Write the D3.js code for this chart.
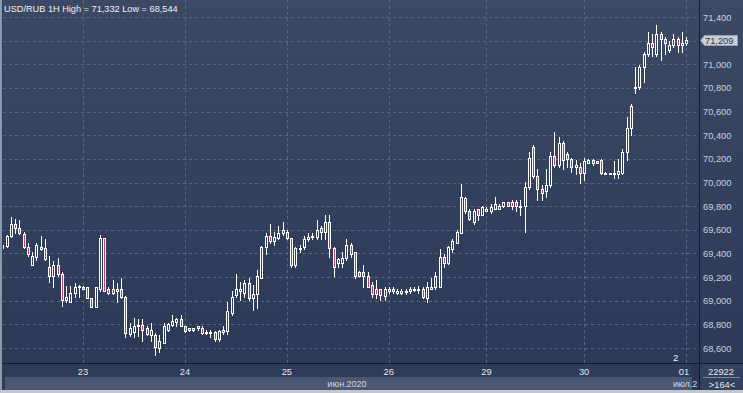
<!DOCTYPE html>
<html><head><meta charset="utf-8">
<script src="https://cdn.jsdelivr.net/npm/d3@7"></script>
<style>html,body{margin:0;padding:0;background:#2e3b58;overflow:hidden}svg{display:block}</style>
</head><body>
<script>
const opens=[69450,69467,69551,69653,69611,69568,69458,69306,69374,69458,
69450,69281,69205,69298,69230,69035,68993,69069,69120,69120,
69112,69027,68951,69095,69534,69095,69069,69086,69095,69035,
68722,68739,68790,68798,68765,68714,68714,68604,68646,68756,
68798,68824,68849,68790,68765,68756,68765,68773,68731,68739,
68739,68680,68739,68748,68900,69052,69086,69069,69154,69019,
69061,69196,69458,69551,69501,69534,69577,69585,69534,69298,
69441,69458,69526,69543,69543,69585,69585,69662,69450,69323,
69323,69365,69475,69408,69239,69239,69205,69137,69095,69095,
69044,69086,69095,69078,69069,69078,69086,69095,69095,69095,
69027,69103,69112,69120,69374,69323,69441,69492,69577,69873,
69763,69662,69772,69729,69763,69755,69780,69780,69797,69831,
69831,69831,69797,69797,69958,70304,70051,69941,69924,69983,
70220,70152,70338,70245,70203,70135,70135,70084,70169,70194,
70178,70194,70084,70076,70076,70076,70084,70254,70465,70804,
70804,70981,71083,71184,71083,71252,71210,71125,71167,71218,
71167,71176];
const highs=[69484,69560,69704,69695,69687,69585,69492,69408,69492,69551,
69526,69382,69332,69365,69239,69128,69128,69154,69137,69128,
69120,69027,69120,69560,69534,69112,69171,69154,69196,69044,
68815,68858,68849,68849,68782,68815,68731,68714,68815,68815,
68875,68858,68875,68790,68773,68765,68790,68782,68756,68756,
68748,68756,68782,68985,69078,69222,69162,69179,69196,69137,
69264,69467,69577,69645,69585,69636,69670,69602,69534,69458,
69475,69551,69577,69577,69687,69636,69721,69729,69458,69365,
69408,69526,69492,69408,69255,69306,69239,69162,69179,69103,
69120,69120,69112,69095,69095,69103,69112,69120,69128,69112,
69162,69196,69239,69441,69391,69467,69518,69602,69991,69881,
69772,69780,69780,69797,69789,69822,69881,69814,69839,69839,
69848,69848,69856,70008,70262,70321,70110,69983,70110,70262,
70431,70381,70355,70254,70211,70194,70169,70211,70203,70203,
70186,70203,70093,70084,70178,70203,70287,70550,70668,70981,
70990,71100,71277,71252,71332,71269,71235,71193,71260,71235,
71269,71235];
const lows=[69441,69458,69543,69577,69568,69450,69382,69298,69348,69433,
69348,69162,69112,69213,68959,68985,68985,69035,69035,69095,
69019,68951,68951,69086,69078,69061,69061,68993,69027,68697,
68705,68697,68705,68663,68714,68655,68544,68562,68646,68748,
68790,68782,68782,68739,68748,68748,68756,68722,68722,68697,
68663,68663,68722,68722,68883,69035,69010,69035,69010,68922,
68942,69188,69391,69492,69475,69518,69560,69526,69289,69289,
69416,69441,69501,69518,69518,69526,69526,69374,69205,69281,
69289,69348,69374,69196,69205,69120,69112,69035,69027,69010,
69010,69069,69069,69061,69061,69061,69069,69078,69069,69027,
68985,69095,69103,69112,69289,69314,69408,69492,69577,69746,
69687,69653,69687,69721,69755,69746,69772,69772,69789,69797,
69780,69755,69721,69585,69941,70042,69856,69856,69881,69966,
70127,70135,70118,70127,70093,70068,70000,70017,70161,70152,
70161,70076,70068,70068,70042,70042,70076,70194,70406,70753,
70787,70854,71074,71066,71074,71040,71083,71100,71150,71100,
71100,71159];
const closes=[69475,69551,69653,69619,69577,69458,69391,69382,69475,69441,
69357,69205,69298,69222,69002,69002,69069,69120,69128,69103,
69027,68951,69112,69534,69086,69069,69095,69095,69035,68731,
68773,68790,68798,68756,68722,68756,68612,68655,68790,68806,
68832,68849,68790,68748,68756,68765,68782,68731,68739,68731,
68672,68748,68756,68909,69035,69095,69103,69154,69027,69061,
69213,69458,69551,69501,69543,69577,69602,69534,69298,69450,
69450,69526,69543,69551,69602,69611,69670,69450,69289,69357,
69365,69475,69399,69205,69213,69205,69120,69061,69061,69052,
69095,69095,69086,69069,69078,69086,69095,69103,69103,69035,
69112,69120,69205,69374,69323,69458,69501,69585,69881,69755,
69695,69755,69729,69789,69780,69789,69814,69797,69831,69805,
69797,69797,69789,69958,70211,70051,69941,69915,69983,70228,
70152,70338,70194,70203,70127,70144,70084,70178,70194,70169,
70169,70084,70076,70084,70084,70101,70262,70465,70643,70812,
70981,71083,71184,71150,71252,71210,71176,71167,71218,71167,
71176,71209];
const yTicks=[68600,68800,69000,69200,69400,69600,69800,70000,70200,70400,70600,70800,71000,71200,71400];
const dayIdx=[19,43,67,91,114,137,161];
const dayLabels=["23","24","25","26","29","30","01"];
const titleText="USD/RUB 1H High = 71,332 Low = 68,544";
const lastPrice=71209;

const W=743,H=393;
const plotL=3,plotR=699,plotB=363;
const svg=d3.select("body").append("svg").attr("width",W).attr("height",H);
const defs=svg.append("defs");
const g1=defs.append("linearGradient").attr("id","bg").attr("x1",0).attr("y1",0).attr("x2",0).attr("y2",1);
g1.append("stop").attr("offset","0%").attr("stop-color","#3c4964");
g1.append("stop").attr("offset","100%").attr("stop-color","#2c3957");
defs.append("clipPath").attr("id","clip").append("rect").attr("x",plotL).attr("y",0).attr("width",plotR-plotL).attr("height",plotB);
defs.append("clipPath").attr("id","mclip").append("rect").attr("x",660).attr("y",377).attr("width",38).attr("height",13);

const x=d3.scaleLinear().domain([19,161]).range([83,686]);
const y=d3.scaleLinear().domain([68600,71400]).range([348,17]);

svg.append("rect").attr("x",0).attr("y",0).attr("width",W).attr("height",H).attr("fill","#2e3b58");
svg.append("rect").attr("x",plotL).attr("y",0).attr("width",W-plotL).attr("height",plotB).attr("fill","url(#bg)");

const font="'Liberation Sans', Arial, sans-serif";
// grid
const grid=svg.append("g").attr("stroke","#596782").attr("stroke-width",1).attr("stroke-dasharray","3,3");
yTicks.forEach(v=>{const yy=Math.round(y(v))+0.5;grid.append("line").attr("x1",plotL).attr("x2",plotR).attr("y1",yy).attr("y2",yy);});
dayIdx.forEach(i=>{const xx=Math.round(x(i))+0.5;grid.append("line").attr("x1",xx).attr("x2",xx).attr("y1",0).attr("y2",plotB);});

// candles
const data=opens.map((o,i)=>({i,o,h:highs[i],l:lows[i],c:closes[i]}));
const cg=svg.append("g").attr("clip-path","url(#clip)");
data.forEach(d=>{
  const cx=Math.round(x(d.i));
  const yh=Math.round(y(d.h)),yl=Math.round(y(d.l));
  let yt=Math.round(y(Math.max(d.o,d.c))),yb=Math.round(y(Math.min(d.o,d.c)));
  if(yb-yt<1)yb=yt+1;
  cg.append("line").attr("x1",cx+0.5).attr("x2",cx+0.5).attr("y1",yh).attr("y2",yl+1).attr("stroke","#ffffff").attr("stroke-width",1);
  cg.append("rect").attr("x",cx-0.5).attr("y",yt+0.5).attr("width",2).attr("height",yb-yt)
    .attr("fill",d.c<d.o?"#c23b63":"#33405c").attr("stroke","#ffffff").attr("stroke-width",1);
});

// title
svg.append("text").attr("x",4).attr("y",12).attr("fill","#eef0f4").attr("font-family",font).attr("font-size","9.2px").text(titleText);
// "2" marker
svg.append("text").attr("x",673).attr("y",361).attr("fill","#f0f0f0").attr("font-family",font).attr("font-size","9.5px").text("2");

// separators
svg.append("line").attr("x1",699.5).attr("x2",699.5).attr("y1",0).attr("y2",H).attr("stroke","#151c2b").attr("stroke-width",1);
svg.append("line").attr("x1",0).attr("x2",W).attr("y1",363.5).attr("y2",363.5).attr("stroke","#151c2b").attr("stroke-width",1);

// right axis labels (tick hidden behind last-price tag is skipped, as in reference)
const ly=Math.round(y(lastPrice));
const ax=svg.append("g").attr("font-family",font).attr("font-size","9.3px").attr("fill","#c8d0dd");
yTicks.filter(v=>Math.abs(y(v)-ly)>9).forEach(v=>{ax.append("text").attr("x",703).attr("y",y(v)+3.5).text(d3.format(",")(v));});

// last price tag
svg.append("path").attr("d",`M700.5,${ly+0.5} L704.5,${ly-4.5} L737.5,${ly-4.5} L737.5,${ly+5.5} L704.5,${ly+5.5} Z`)
  .attr("fill","#c9ced6").attr("stroke","#9aa2b0").attr("stroke-width",1);
svg.append("text").attr("x",705).attr("y",ly+4).attr("font-family",font).attr("font-size","9.3px").attr("fill","#2a3450").text(d3.format(",")(lastPrice));

// bottom axis
svg.append("rect").attr("x",0).attr("y",364).attr("width",699).attr("height",13).attr("fill","#2f3c59");
svg.append("rect").attr("x",5).attr("y",377).attr("width",694).attr("height",13).attr("fill","#4a5874");
const bx=svg.append("g").attr("font-family",font).attr("font-size","9.3px").attr("fill","#e2e6ec").attr("text-anchor","middle");
dayIdx.forEach((i,k)=>{bx.append("text").attr("x",Math.min(x(i),684)).attr("y",375).text(dayLabels[k]);});
svg.append("text").attr("x",347).attr("y",387).attr("text-anchor","middle").attr("font-family",font).attr("font-size","9px").attr("fill","#d0d6e0").text("июн.2020");
svg.append("rect").attr("x",692).attr("y",364).attr("width",7).attr("height",26).attr("fill","#2a3652");
svg.append("text").attr("x",673).attr("y",387).attr("clip-path","url(#mclip)").attr("font-family",font).attr("font-size","9px").attr("fill","#d0d6e0").text("июл.2");

// right-bottom box
svg.append("rect").attr("x",700).attr("y",364).attr("width",43).attr("height",27).attr("fill","#34415e");
svg.append("line").attr("x1",703).attr("x2",740).attr("y1",377.5).attr("y2",377.5).attr("stroke","#7d889c");
svg.append("text").attr("x",721).attr("y",375).attr("text-anchor","middle").attr("font-family",font).attr("font-size","9.3px").attr("fill","#e2e6ec").text("22922");
svg.append("text").attr("x",722).attr("y",388).attr("text-anchor","middle").attr("font-family",font).attr("font-size","9.3px").attr("fill","#e2e6ec").text(">164<");

// frame
svg.append("rect").attr("x",0).attr("y",0).attr("width",2).attr("height",H).attr("fill","#8f99aa");
svg.append("rect").attr("x",0).attr("y",390).attr("width",W).attr("height",3).attr("fill","#c3c8d0");
</script>
</body></html>
